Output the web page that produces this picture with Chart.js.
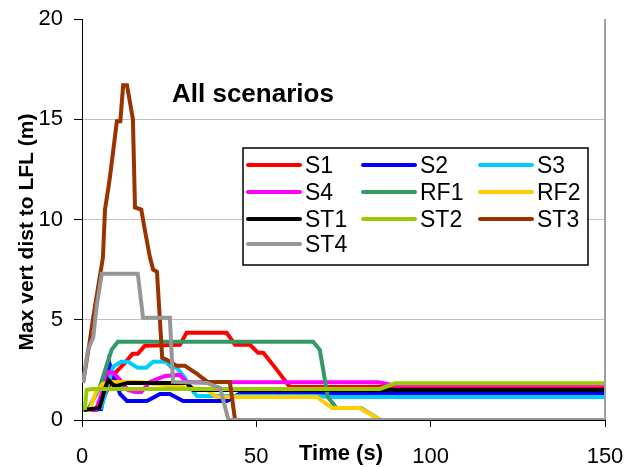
<!DOCTYPE html>
<html>
<head>
<meta charset="utf-8">
<script src="https://cdn.jsdelivr.net/npm/chart.js"></script>
<style>
html, body { margin: 0; padding: 0; background: #fff; }
canvas { display: block; }
</style>
</head>
<body>
<canvas id="myChart" width="625" height="467"></canvas>
<script>
// [time (s), max vertical distance to LFL (m)]
var S1  = [[0.5,0.5],[5,0.55],[6.5,1.2],[8,1.8],[9.5,2.35],[12.3,2.85],[14.5,3.3],[16,3.3],[18,3.7],[28.1,3.75],[30,4.35],[41.5,4.35],[43.9,3.75],[48.2,3.75],[50.5,3.35],[52,3.35],[55.9,2.5],[59.6,1.65],[150,1.65]];
var S2  = [[0.5,0.5],[5.5,0.55],[6.6,1.5],[7.7,2.9],[9.5,2.0],[10.9,1.3],[12.9,0.95],[18.6,0.95],[22.4,1.3],[25.2,1.3],[29,0.95],[41.6,0.95],[45,1.3],[150,1.3]];
var S3  = [[0.5,0.5],[5.5,0.6],[7,1.5],[8.9,2.65],[11.2,2.9],[13.2,2.9],[16,2.6],[18.4,2.6],[20.4,2.9],[24.1,2.9],[25.5,2.65],[27.2,2.6],[29.5,2.1],[31,1.6],[33,1.2],[67,1.2],[72,1.15],[150,1.15]];
var S4  = [[1,0.5],[4,0.5],[6,1.5],[7.5,2.4],[8.9,2.35],[10.9,2.0],[13.2,1.5],[15.2,1.4],[17,1.4],[19.5,1.9],[23.8,2.2],[28,2.25],[30,1.9],[85,1.88],[89,1.75],[150,1.75]];
var RF1 = [[0.5,0.5],[2,0.6],[5,1.6],[8.5,3.5],[10.3,3.9],[66.3,3.9],[68.2,3.5],[70.5,1.15],[73,0.6],[80,0.6],[85.5,0],[150,0]];
var RF2 = [[0.5,0.5],[2.2,0.5],[4,1.4],[6,1.8],[8.9,1.9],[16.6,1.9],[35.8,1.5],[38.6,1.15],[67.4,1.15],[71.7,0.6],[79.7,0.6],[84,0.15],[86,0],[150,0]];
var ST1 = [[0.5,0.5],[5,0.6],[6.5,1.5],[7.5,2.0],[8.9,1.75],[10,1.7],[13,1.85],[30,1.85],[32,1.5],[150,1.5]];
var ST2 = [[0.8,0.5],[1.3,1.5],[2.6,1.55],[85.5,1.55],[89.8,1.83],[150,1.83]];
var ST3 = [[0.3,1.85],[2.3,4.0],[3.2,5.1],[6,8.1],[6.6,10.5],[7.5,11.5],[8,12.1],[10,14.9],[11,14.9],[11.8,16.7],[12.9,16.7],[14.6,15],[15.2,10.6],[17,10.5],[18,9.5],[19.5,8.1],[20.4,7.5],[21.5,7.4],[23,3.1],[24.3,3.0],[27.2,2.7],[29.5,2.7],[33,2.3],[36,1.9],[42.4,1.9],[43.9,0],[150,0]];
var ST4 = [[0.3,1.85],[1.7,3.5],[3.2,4.1],[4.3,5.8],[5.7,7.3],[16,7.3],[17.5,5.1],[25.2,5.1],[26.1,1.9],[35.8,1.85],[39.6,1.6],[42,0],[150,0]];

var seriesNames  = ["S1","S2","S3","S4","RF1","RF2","ST1","ST2","ST3","ST4"];
var seriesColors = ["#ff0000","#0000ff","#00ccff","#ff00ff","#339966","#ffcc00","#000000","#99cc00","#993300","#969696"];
var seriesData   = [S1,S2,S3,S4,RF1,RF2,ST1,ST2,ST3,ST4];

var xTicks = [0,50,100,150];
var yTicks = [0,5,10,15,20];

var FONT = "'Liberation Sans', Arial, sans-serif";

var datasets = [];
for (var i = 0; i < seriesNames.length; i++) {
    datasets.push({
        label: seriesNames[i],
        data: seriesData[i],
        borderColor: seriesColors[i],
        backgroundColor: seriesColors[i],
        borderWidth: 4,
        pointRadius: 0,
        tension: 0,
        fill: false,
        order: seriesNames.length - i   // later series on top, like the original
    });
}

var extras = {
    id: 'extras',
    afterDraw: function(chart) {
        var ctx = chart.ctx, a = chart.chartArea;
        ctx.save();
        // right edge of plot area
        ctx.strokeStyle = '#a0a0a0';
        ctx.lineWidth = 2;
        ctx.beginPath();
        ctx.moveTo(a.right, a.top);
        ctx.lineTo(a.right, a.bottom);
        ctx.stroke();

        // texts
        ctx.fillStyle = '#000';
        ctx.font = "bold 26px " + FONT;
        ctx.textAlign = 'left';
        ctx.textBaseline = 'alphabetic';
        ctx.fillText("All scenarios", 172, 102);

        ctx.font = "bold 22px " + FONT;
        ctx.textAlign = 'center';
        ctx.fillText("Time (s)", 341, 460);

        ctx.save();
        ctx.translate(27, 232);
        ctx.rotate(-Math.PI / 2);
        ctx.font = "bold 21px " + FONT;
        ctx.textBaseline = 'middle';
        ctx.fillText("Max vert dist to LFL (m)", 0, 0);
        ctx.restore();

        // legend box
        ctx.fillStyle = '#fff';
        ctx.fillRect(243, 148, 345, 117);
        ctx.strokeStyle = '#000';
        ctx.lineWidth = 1.5;
        ctx.strokeRect(243, 148, 345, 117);
        var colX = [248, 363, 480], rowY = [165, 192, 219, 244];
        ctx.font = "23px " + FONT;
        ctx.textAlign = 'left';
        ctx.textBaseline = 'middle';
        chart.data.datasets.forEach(function(ds, k) {
            var x = colX[k % 3], y = rowY[Math.floor(k / 3)];
            ctx.strokeStyle = ds.borderColor;
            ctx.lineWidth = 4;
            ctx.lineCap = 'round';
            ctx.beginPath();
            ctx.moveTo(x, y);
            ctx.lineTo(x + 52, y);
            ctx.stroke();
            ctx.fillStyle = '#000';
            ctx.fillText(ds.label, x + 57, y + 2);
        });
        ctx.restore();
    }
};

var ctx = document.getElementById("myChart");
var myChart = new Chart(ctx, {
    type: 'line',
    data: { datasets: datasets },
    options: {
        responsive: false,
        animation: false,
        devicePixelRatio: 1,
        layout: { padding: { top: 19, right: 20, left: 0, bottom: 0 } },
        plugins: { legend: { display: false }, tooltip: { enabled: false } },
        scales: {
            x: {
                type: 'linear',
                min: 0, max: 150,
                afterBuildTicks: function(scale) { scale.ticks = xTicks.map(function(v){ return {value: v}; }); },
                afterFit: function(scale) { scale.height = 47; scale.paddingLeft = 0; scale.paddingRight = 0; },
                grid: { drawOnChartArea: false, tickLength: 7, tickColor: '#000' },
                border: { color: '#000', width: 1 },
                ticks: { color: '#000', font: { family: FONT, size: 22 }, padding: 17, maxRotation: 0 }
            },
            y: {
                type: 'linear',
                min: 0, max: 20,
                afterBuildTicks: function(scale) { scale.ticks = yTicks.map(function(v){ return {value: v}; }); },
                afterFit: function(scale) { scale.width = 82; scale.paddingTop = 0; scale.paddingBottom = 0; },
                grid: {
                    tickLength: 8,
                    tickColor: '#000',
                    color: function(c) { return (c.tick && (c.tick.value === 20 || c.tick.value === 0)) ? 'rgba(0,0,0,0)' : '#c0c0c0'; }
                },
                border: { color: '#000', width: 1 },
                ticks: { color: '#000', font: { family: FONT, size: 22 }, padding: 11 }
            }
        }
    },
    plugins: [extras]
});
</script>
</body>
</html>
